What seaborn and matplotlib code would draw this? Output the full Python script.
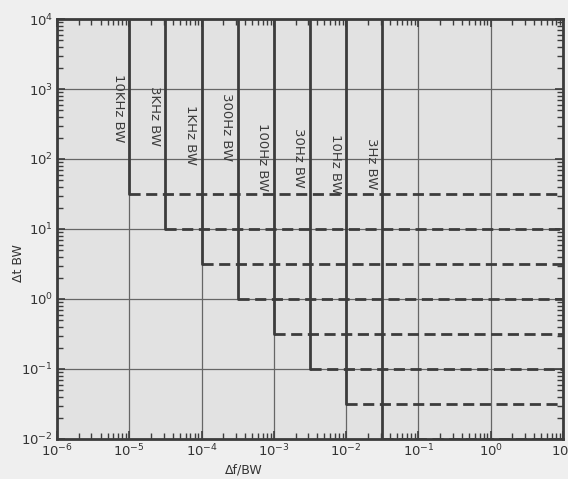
import matplotlib
matplotlib.use("Agg")
import matplotlib.pyplot as plt
import matplotlib.transforms as mtransforms
from matplotlib.ticker import LogLocator, LogFormatterMathtext, NullFormatter
import numpy as np
import pandas as pd
import seaborn as sns

# Resolution bandwidth settings and their corner points
bw_labels = ["10KHz BW", "3KHz BW", "1KHz BW", "300Hz BW",
             "100Hz BW", "30Hz BW", "10Hz BW", "3Hz BW"]
df_bw = [1e-5, 3.16e-5, 1e-4, 3.16e-4, 1e-3, 3.16e-3, 1e-2, 3.16e-2]   # Δf/BW of each vertical edge
dt_bw = [31.6, 10, 3.16, 1, 0.316, 0.1, 0.0316, 0.01]                  # Δt·BW of each horizontal edge

x_range = [1e-6, 1e1]
y_range = [1e-2, 1e4]

# Label placement (vertical centre, in Δt·BW units)
label_y = [540, 410, 220, 290, 107, 103, 85, 85]

sns.set_theme(style="ticks")
plt.rcParams["font.family"] = ["DejaVu Sans"]

ink = "#3c3c3c"
fig = plt.figure(figsize=(5.68, 4.79), dpi=100, facecolor="#efefef")
ax = fig.add_axes([57 / 568, 1 - 439 / 479, (563 - 57) / 568, (439 - 19) / 479])
ax.set_facecolor("#e2e2e2")

# Solid vertical edges (top of chart down to the corner)
vert = pd.DataFrame({
    "x": [v for v in df_bw for _ in (0, 1)],
    "y": [yy for d in dt_bw for yy in (y_range[1], d)],
    "bw": [b for b in bw_labels for _ in (0, 1)],
})
# Dashed horizontal edges (corner out to the right-hand edge)
horz = pd.DataFrame({
    "x": [xx for v in df_bw for xx in (v, x_range[1])],
    "y": [d for d in dt_bw for _ in (0, 1)],
    "bw": [b for b in bw_labels for _ in (0, 1)],
})

sns.lineplot(data=vert, x="x", y="y", units="bw", estimator=None, sort=False,
             color=ink, lw=2.0, ax=ax, zorder=3)
sns.lineplot(data=horz, x="x", y="y", units="bw", estimator=None, sort=False,
             color=ink, lw=2.0, ax=ax, zorder=3, dashes=False,
             linestyle=(0, (4, 2)))

ax.set_xscale("log")
ax.set_yscale("log")
ax.set_xlim(*x_range)
ax.set_ylim(*y_range)

# Rotated bandwidth labels just left of each vertical edge
for lab, xv, yv in zip(bw_labels, df_bw, label_y):
    tr = mtransforms.offset_copy(ax.transData, fig=fig, x=-11, y=0, units="dots")
    ax.text(xv, yv, lab, transform=tr, rotation=-90, ha="center", va="center",
            fontsize=9.5, color=ink, zorder=4)

# Decade grid, inward ticks on all sides
ax.grid(True, which="major", color="#666666", lw=0.9, zorder=1)
ax.set_axisbelow(True)
ax.xaxis.set_major_locator(LogLocator(base=10, numticks=20))
ax.yaxis.set_major_locator(LogLocator(base=10, numticks=20))
ax.xaxis.set_minor_locator(LogLocator(base=10, subs=np.arange(2, 10), numticks=20))
ax.yaxis.set_minor_locator(LogLocator(base=10, subs=np.arange(2, 10), numticks=20))
ax.xaxis.set_major_formatter(LogFormatterMathtext())
ax.yaxis.set_major_formatter(LogFormatterMathtext())
ax.xaxis.set_minor_formatter(NullFormatter())
ax.yaxis.set_minor_formatter(NullFormatter())
ax.tick_params(which="both", direction="in", top=True, right=True, color=ink,
               labelcolor="#333333", labelsize=9.5)
ax.tick_params(which="major", length=6, width=1.2, pad=3)
ax.tick_params(which="minor", length=4, width=1.0)
for s in ax.spines.values():
    s.set_color(ink)
    s.set_linewidth(2.0)

ax.set_xlabel("Δf/BW", fontsize=9, color="#333333")
ax.set_ylabel("Δt BW", fontsize=9, color="#333333")
ax.xaxis.set_label_coords(0.37, -0.058)
ax.yaxis.set_label_coords(-0.077, 0.42)
ax.yaxis.label.set_va("center")

fig.savefig("out.png", dpi=100, facecolor=fig.get_facecolor())
